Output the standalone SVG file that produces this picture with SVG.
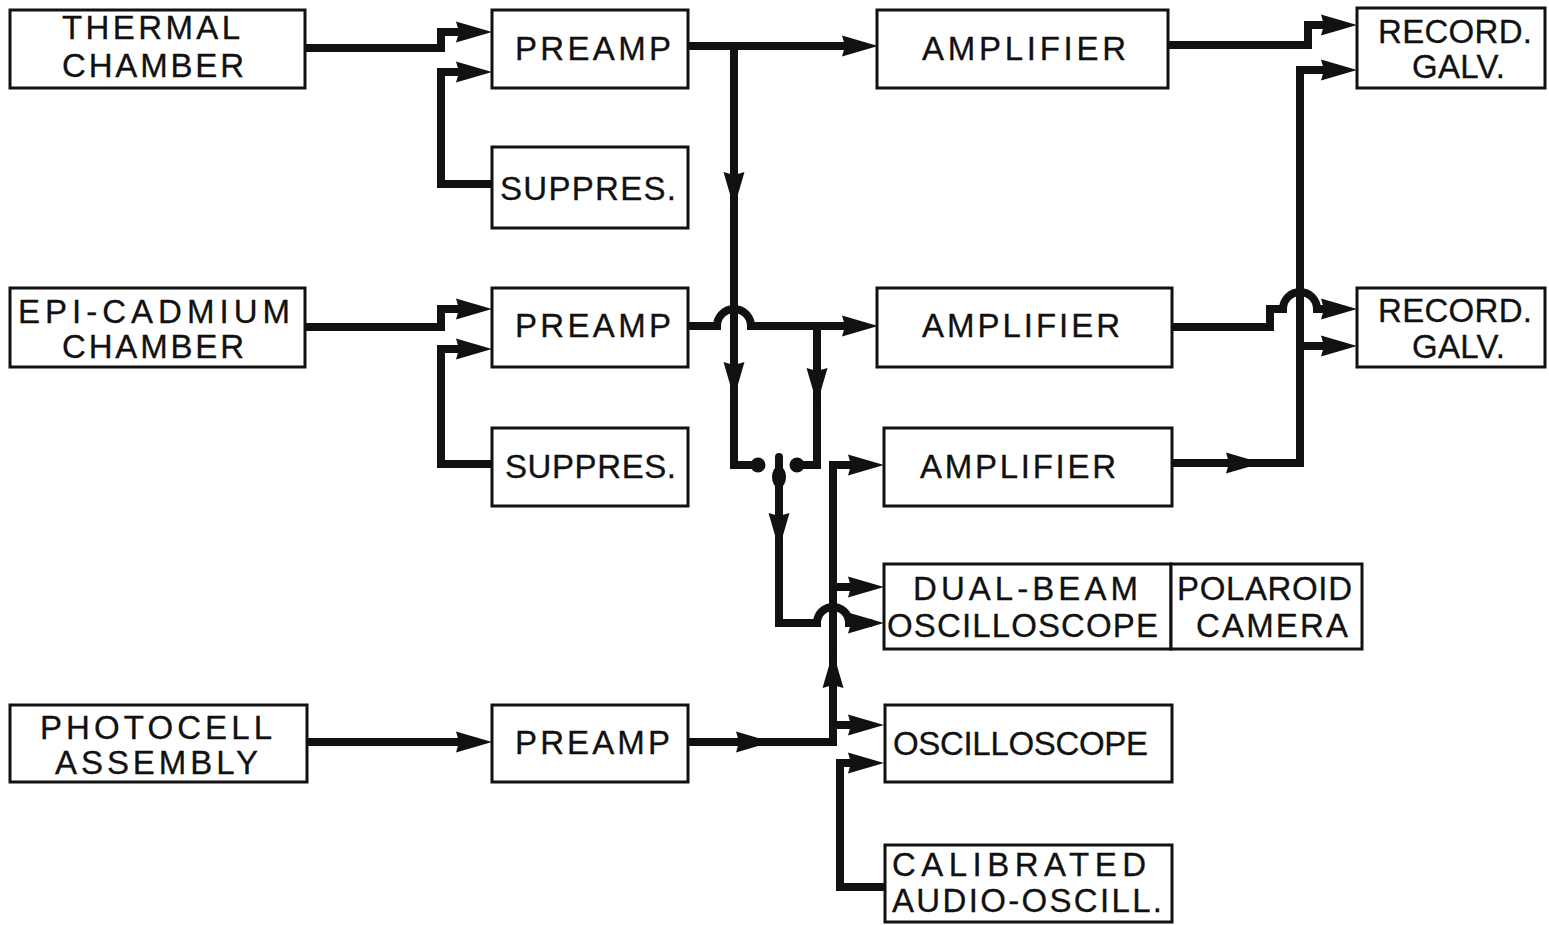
<svg xmlns="http://www.w3.org/2000/svg" width="1549" height="925" viewBox="0 0 1549 925">
<style>
.box{fill:#fff;stroke:#111;stroke-width:3}
.lbl{font-family:"Liberation Sans","DejaVu Sans",sans-serif;font-size:33px;fill:#111;stroke:#111;stroke-width:0.3}
.wire{fill:none;stroke:#111;stroke-width:8;stroke-linejoin:miter;stroke-linecap:butt}
.ah{fill:#111}
</style>
<defs>
<path id="ah" class="ah" d="M0,0 L-36,-10.5 L-33,0 L-36,10.5 Z"/>
</defs>
<rect width="1549" height="925" fill="#fff"/>
<g id="connectors">
<path class="wire" d="M305,48 H441 V32 H478"/>
<use href="#ah" transform="translate(492,32)"/>
<path class="wire" d="M492,184 H441 V72 H478"/>
<use href="#ah" transform="translate(492,72)"/>
<path class="wire" d="M688,46 H862"/>
<use href="#ah" transform="translate(878,46)"/>
<path class="wire" d="M734,46 V465 H758"/>
<use href="#ah" transform="translate(734,208) rotate(90)"/>
<use href="#ah" transform="translate(734,398) rotate(90)"/>
<path class="wire" d="M305,327 H441 V309 H478"/>
<use href="#ah" transform="translate(492,309)"/>
<path class="wire" d="M492,464 H441 V349 H478"/>
<use href="#ah" transform="translate(492,349)"/>
<path class="wire" d="M688,326 H717 A17,17 0 0 1 751,326 H862"/>
<use href="#ah" transform="translate(878,326)"/>
<path class="wire" d="M817,326 V465 H797"/>
<use href="#ah" transform="translate(817,404) rotate(90)"/>
<circle cx="758" cy="465" r="7.5" fill="#111"/>
<circle cx="797" cy="465" r="7.5" fill="#111"/>
<path class="wire" style="stroke-linecap:round" d="M779,457 V623 H817 A16,16 0 0 1 849,623 H870"/>
<ellipse cx="779" cy="477" rx="7" ry="11" fill="#111"/>
<use href="#ah" transform="translate(779,549) rotate(90)"/>
<use href="#ah" transform="translate(884,623)"/>
<path class="wire" d="M870,465 H833 V742 H688"/>
<use href="#ah" transform="translate(884,465)"/>
<use href="#ah" transform="translate(833,652) rotate(-90)"/>
<use href="#ah" transform="translate(772,742)"/>
<path class="wire" d="M833,587 H870"/>
<use href="#ah" transform="translate(884,587)"/>
<path class="wire" d="M833,725 H870"/>
<use href="#ah" transform="translate(884,725)"/>
<path class="wire" d="M884,887 H840 V763 H870"/>
<use href="#ah" transform="translate(884,763)"/>
<path class="wire" d="M305,742 H478"/>
<use href="#ah" transform="translate(492,742)"/>
<path class="wire" d="M1168,45 H1308 V25 H1342"/>
<use href="#ah" transform="translate(1357,25)"/>
<path class="wire" d="M1172,327 H1270 V309 H1283 A17,17 0 0 1 1317,309 H1342"/>
<use href="#ah" transform="translate(1357,309)"/>
<path class="wire" d="M1172,463 H1300 V70 H1342"/>
<use href="#ah" transform="translate(1357,70)"/>
<use href="#ah" transform="translate(1262,463)"/>
<path class="wire" d="M1300,346 H1342"/>
<use href="#ah" transform="translate(1357,346)"/>
</g>
<g id="thermal"><rect class="box" x="10" y="10" width="295" height="78"/>
<text class="lbl" x="62" y="39" textLength="178" lengthAdjust="spacing">THERMAL</text>
<text class="lbl" x="62" y="77" textLength="182" lengthAdjust="spacing">CHAMBER</text></g>
<g id="preamp1"><rect class="box" x="492" y="10" width="196" height="78"/>
<text class="lbl" x="515" y="60" textLength="156" lengthAdjust="spacing">PREAMP</text></g>
<g id="suppres1"><rect class="box" x="492" y="147" width="196" height="81"/>
<text class="lbl" x="500" y="200" textLength="176" lengthAdjust="spacing">SUPPRES.</text></g>
<g id="amp1"><rect class="box" x="877" y="10" width="291" height="78"/>
<text class="lbl" x="922" y="60" textLength="204" lengthAdjust="spacing">AMPLIFIER</text></g>
<g id="galv1"><rect class="box" x="1357" y="8" width="188" height="80"/>
<text class="lbl" x="1378" y="43" textLength="154" lengthAdjust="spacing">RECORD.</text>
<text class="lbl" x="1412" y="78" textLength="93" lengthAdjust="spacing">GALV.</text></g>
<g id="epi"><rect class="box" x="10" y="288" width="295" height="79"/>
<text class="lbl" x="18" y="323" textLength="272" lengthAdjust="spacing">EPI-CADMIUM</text>
<text class="lbl" x="62" y="358" textLength="182" lengthAdjust="spacing">CHAMBER</text></g>
<g id="preamp2"><rect class="box" x="492" y="288" width="196" height="79"/>
<text class="lbl" x="515" y="337" textLength="156" lengthAdjust="spacing">PREAMP</text></g>
<g id="suppres2"><rect class="box" x="492" y="428" width="196" height="78"/>
<text class="lbl" x="505" y="478" textLength="171" lengthAdjust="spacing">SUPPRES.</text></g>
<g id="amp2"><rect class="box" x="877" y="288" width="295" height="79"/>
<text class="lbl" x="922" y="337" textLength="198" lengthAdjust="spacing">AMPLIFIER</text></g>
<g id="galv2"><rect class="box" x="1357" y="288" width="188" height="79"/>
<text class="lbl" x="1378" y="322" textLength="154" lengthAdjust="spacing">RECORD.</text>
<text class="lbl" x="1412" y="358" textLength="93" lengthAdjust="spacing">GALV.</text></g>
<g id="amp3"><rect class="box" x="884" y="428" width="288" height="78"/>
<text class="lbl" x="920" y="478" textLength="196" lengthAdjust="spacing">AMPLIFIER</text></g>
<g id="dualbeam"><rect class="box" x="884" y="564" width="287" height="85"/>
<text class="lbl" x="913" y="600" textLength="225" lengthAdjust="spacing">DUAL-BEAM</text>
<text class="lbl" x="887" y="637" textLength="271" lengthAdjust="spacing">OSCILLOSCOPE</text></g>
<g id="polaroid"><rect class="box" x="1171" y="564" width="191" height="85"/>
<text class="lbl" x="1177" y="600" textLength="175" lengthAdjust="spacing">POLAROID</text>
<text class="lbl" x="1196" y="637" textLength="152" lengthAdjust="spacing">CAMERA</text></g>
<g id="photocell"><rect class="box" x="10" y="705" width="297" height="77"/>
<text class="lbl" x="40" y="739" textLength="232" lengthAdjust="spacing">PHOTOCELL</text>
<text class="lbl" x="55" y="774" textLength="203" lengthAdjust="spacing">ASSEMBLY</text></g>
<g id="preamp3"><rect class="box" x="492" y="705" width="196" height="77"/>
<text class="lbl" x="515" y="754" textLength="155" lengthAdjust="spacing">PREAMP</text></g>
<g id="oscilloscope"><rect class="box" x="885" y="705" width="287" height="77"/>
<text class="lbl" x="893" y="755" textLength="255" lengthAdjust="spacing">OSCILLOSCOPE</text></g>
<g id="audio"><rect class="box" x="885" y="845" width="287" height="77"/>
<text class="lbl" x="892" y="876" textLength="254" lengthAdjust="spacing">CALIBRATED</text>
<text class="lbl" x="892" y="912" textLength="270" lengthAdjust="spacing">AUDIO-OSCILL.</text></g>
</svg>
